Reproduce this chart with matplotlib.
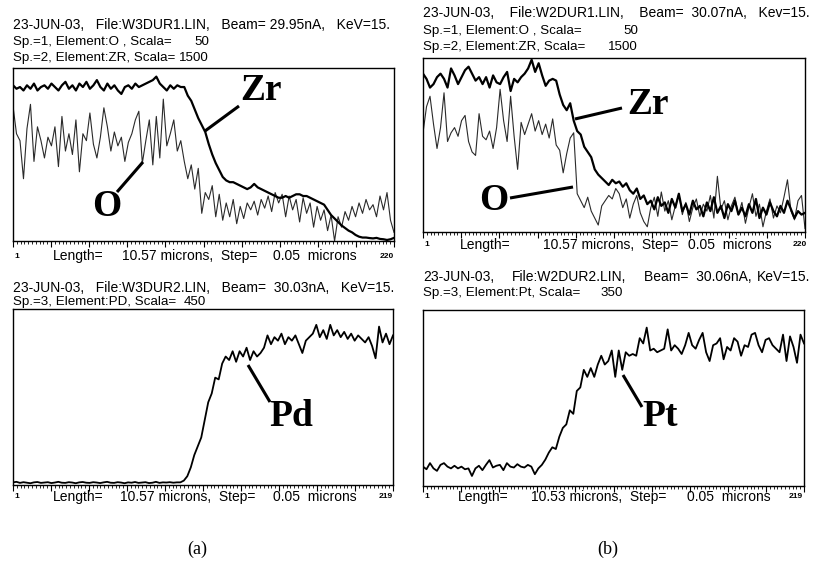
import numpy as np
import matplotlib
matplotlib.use("Agg")
import matplotlib.pyplot as plt
from matplotlib.ticker import FixedLocator

# ---------------- data (% of panel height) ----------------
zr_a = [90, 88, 89, 87, 90, 88, 91, 87, 89, 90,
        88, 91, 89, 87, 90, 92, 88, 90, 87, 91,
        89, 92, 88, 90, 93, 89, 87, 91, 88, 90,
        87, 85, 89, 90, 88, 91, 89, 90, 91, 92,
        93, 95, 91, 89, 87, 90, 88, 90, 89, 89,
        84, 81, 76, 71, 67, 63, 56, 50, 45, 41,
        37, 35, 34, 34, 33, 32, 31, 30, 31, 33,
        31, 30, 29, 28, 27, 26, 25, 25, 26, 25,
        26, 27, 27, 26, 26, 25, 24, 23, 22, 21,
        18, 15, 13, 11, 9, 7.5, 6, 5, 3.5, 2.5,
        2, 2, 1.7, 1.5, 1.8, 1.2, 1, 0.6, 1, 1.8]
o_a = [78, 62, 58, 36, 65, 79, 46, 66, 58, 48,
       60, 55, 66, 43, 72, 52, 62, 50, 70, 40,
       62, 58, 74, 56, 48, 60, 77, 66, 52, 63,
       55, 60, 46, 57, 62, 70, 75, 45, 58, 70,
       44, 72, 48, 82, 55, 62, 70, 52, 58, 46,
       36, 44, 30, 42, 16, 28, 24, 32, 14, 27,
       12, 22, 14, 24, 10, 20, 13, 22, 18, 23,
       15, 24, 19, 26, 17, 28, 22, 27, 14, 26,
       18, 24, 11, 25, 16, 22, 8, 20, 12, 18,
       6, 15, 0, 14, 8, 17, 12, 20, 14, 22,
       16, 24, 18, 21, 14, 26, 18, 28, 12, 5]
zr_b = [91, 88, 83, 85, 89, 91, 88, 83, 94, 90,
        85, 89, 93, 95, 91, 87, 89, 85, 89, 83,
        90, 86, 85, 89, 92, 81, 88, 86, 89, 91,
        94, 99, 92, 97, 90, 84, 87, 88, 87, 79,
        73, 70, 74, 64, 58, 56, 49, 46, 43, 36,
        33, 31, 29, 27, 30, 28, 29, 26, 28, 24,
        22, 25, 19, 21, 16, 18, 13, 20, 15, 17,
        11, 19, 14, 22, 12, 16, 10, 18, 13, 15,
        9, 17, 12, 20, 11, 15, 8, 16, 12, 18,
        10, 14, 9, 16, 11, 19, 8, 14, 10, 17,
        12, 9, 15, 11, 18, 13, 8, 12, 10, 11]
o_b = [57, 72, 78, 62, 48, 60, 80, 52, 57, 60,
       55, 64, 67, 52, 46, 44, 68, 55, 53, 58,
       48, 60, 82, 64, 52, 78, 55, 36, 63, 56,
       62, 68, 58, 64, 56, 62, 54, 65, 50, 47,
       34, 45, 54, 57, 22, 18, 14, 20, 12, 8,
       4, 15, 18, 21, 19, 25, 22, 14, 19, 8,
       16, 21, 11, 6, 3, 14, 20, 9, 23, 12,
       18, 7, 15, 22, 10, 17, 6, 14, 19, 9,
       16, 12, 21, 8, 32, 13, 18, 7, 15, 20,
       10, 17, 5, 14, 22, 9, 16, 3, 12, 19,
       8, 15, 11, 20, 30, 12, 7, 18, 21, 2]
pd_c = [1.5, 1.8, 1.2, 1.6, 1.3, 1.0, 1.5, 1.7, 1.2, 1.4,
        1.6, 1.1, 1.4, 1.8, 1.3, 1.2, 1.6, 1.4, 1.0, 1.5,
        1.7, 1.3, 1.2, 1.6, 1.4, 1.1, 1.5, 1.8, 1.3, 1.2,
        1.6, 1.4, 1.0, 1.5, 1.3, 1.7, 1.2, 1.4, 1.6, 1.1,
        1.3, 1.8, 1.2, 1.5, 1.4, 1.6, 1.3, 1.5, 1.5, 2.5,
        5, 10, 17, 22, 27, 37, 47, 52, 61, 60,
        69, 73, 71, 76, 70, 76, 73, 78, 71, 76,
        73, 75, 78, 85, 80, 84, 82, 86, 80, 84,
        82, 85, 80, 75, 82, 84, 86, 91, 84, 88,
        83, 91, 85, 88, 84, 87, 83, 86, 82, 85,
        83, 81, 84, 79, 72, 90, 81, 86, 80, 85]
pt_c = [11, 9.5, 13, 10, 8.6, 12, 13, 11, 10, 11.5,
        10, 11, 9.5, 10, 5.7, 10, 11.5, 9, 12, 14.7,
        10.5, 11.5, 12, 9, 13, 11, 10.5, 12.4, 11, 10.5,
        12, 11, 6.7, 10, 12, 15, 19, 22, 21, 28,
        33, 35, 43, 41, 54, 56, 66, 62, 67, 62,
        69, 74, 69, 71, 77, 62, 77, 66, 76, 74,
        75, 74, 84, 81, 90, 77, 78, 76, 77, 78,
        89, 77, 80, 78, 75, 80, 87, 80, 78, 83,
        87, 76, 71, 80, 81, 84, 72, 79, 77, 84,
        82, 74, 80, 79, 86, 87, 80, 76, 83, 84,
        80, 78, 76, 86, 71, 85, 79, 70, 86, 81]

# ---------------- figure ----------------
W, H = 813, 564
fig = plt.figure(figsize=(W / 100, H / 100), dpi=100)
SANS = ["Liberation Sans", "DejaVu Sans"]
SERIF = ["Liberation Serif", "DejaVu Serif"]


def add_box(l, t, r, b, xmax):
    ax = fig.add_axes([l / W, 1 - b / H, (r - l) / W, (b - t) / H])
    ax.set_xlim(1, xmax)
    ax.set_ylim(0, 100)
    ax.set_yticks([])
    ax.xaxis.set_major_locator(FixedLocator(np.linspace(1, xmax, 11)))
    ax.xaxis.set_minor_locator(FixedLocator(np.linspace(1, xmax, 101)))
    ax.tick_params(axis="x", which="major", direction="out", length=4.5,
                   width=0.8, labelbottom=False)
    ax.tick_params(axis="x", which="minor", direction="out", length=2.5,
                   width=0.6)
    for s in ax.spines.values():
        s.set_linewidth(1.0)
    return ax


ax1 = add_box(13, 68, 394, 241, 220)
ax1.plot(np.linspace(1, 220, len(o_a)), o_a, color="#2a2a2a", lw=0.8)
ax1.plot(np.linspace(1, 220, len(zr_a)), zr_a, color="black", lw=1.6)

ax2 = add_box(423, 58, 805, 232, 220)
ax2.plot(np.linspace(1, 220, len(o_b)), o_b, color="#2a2a2a", lw=0.8)
ax2.plot(np.linspace(1, 220, len(zr_b)), zr_b, color="black", lw=1.6)

ax3 = add_box(13, 309, 393, 485, 219)
ax3.plot(np.linspace(1, 219, len(pd_c)), pd_c, color="black", lw=1.3)

ax4 = add_box(423, 310, 804, 486, 219)
ax4.plot(np.linspace(1, 219, len(pt_c)), pt_c, color="black", lw=1.3)

# overlay in pixel coordinates for text and leader lines
ov = fig.add_axes([0, 0, 1, 1])
ov.set_xlim(0, W)
ov.set_ylim(H, 0)
ov.axis("off")
ov.patch.set_alpha(0)


def t(xp, yp, s, size=10, ha="left", **kw):
    ov.text(xp, yp, s, fontsize=size, ha=ha, va="center", family=SANS, **kw)


SUB = 9.6
# headers
t(13, 25, "23-JUN-03,   File:W3DUR1.LIN,   Beam= 29.95nA,   KeV=15.")
t(13, 42, "Sp.=1, Element:O , Scala=", size=SUB)
t(209, 42, "50", ha="right", size=SUB)
t(13, 58, "Sp.=2, Element:ZR, Scala=", size=SUB)
t(209, 58, "1500", ha="right", size=SUB)

t(423, 13, "23-JUN-03,    File:W2DUR1.LIN,    Beam=  30.07nA,   Kev=15.")
t(423, 31, "Sp.=1, Element:O , Scala=", size=SUB)
t(638, 31, "50", ha="right", size=SUB)
t(423, 47, "Sp.=2, Element:ZR, Scala=", size=SUB)
t(638, 47, "1500", ha="right", size=SUB)

t(13, 288, "23-JUN-03,   File:W3DUR2.LIN,   Beam=  30.03nA,   KeV=15.")
t(13, 302, "Sp.=3, Element:PD, Scala=", size=SUB)
t(206, 302, "450", ha="right", size=SUB)

t(423, 277, "23-JUN-03,")
t(512, 277, "File:W2DUR2.LIN,")
t(644, 277, "Beam=  30.06nA,")
t(810, 277, "KeV=15.", ha="right")
t(423, 293, "Sp.=3, Element:Pt, Scala=", size=SUB)
t(623, 293, "350", ha="right", size=SUB)


# footers
def footer(l, y, length, endlab, offs):
    ov.text(l + 1, y, "1", fontsize=6, ha="left", va="center", family=SANS,
            weight="bold")
    t(l + offs[0], y, "Length=")
    t(l + offs[1], y, f"{length} microns,  Step=")
    t(l + offs[2], y, "0.05  microns")
    ov.text(l + offs[3], y, endlab, fontsize=6, ha="right", va="center",
            family=SANS, weight="bold")


footer(13, 256, "10.57", "220", (40, 109, 260, 381))
footer(423, 245, "10.57", "220", (37, 120, 265, 384))
footer(13, 497, "10.57", "219", (40, 107, 260, 380))
footer(423, 497, "10.53", "219", (35, 108, 264, 380))


# big element labels with leader lines
def label(xc, yc, s, x0, y0, x1, y1):
    ov.text(xc, yc, s, fontsize=27, ha="center", va="center", family=SERIF,
            weight="bold")
    ov.plot([x0, x1], [y0, y1], color="black", lw=2.2, solid_capstyle="butt")


label(261, 90, "Zr", 205, 131, 239, 106)
label(107, 206, "O", 117, 192, 143, 162)
label(648, 105, "Zr", 575, 119, 622, 108)
label(494, 201, "O", 510, 198, 573, 187)
label(291, 416, "Pd", 248, 365, 270, 402)
label(660, 416, "Pt", 623, 375, 642, 407)

ov.text(197, 549, "(a)", fontsize=13, ha="center", va="center", family=SERIF)
ov.text(608, 549, "(b)", fontsize=13, ha="center", va="center", family=SERIF)

fig.savefig("out.png", dpi=100)
